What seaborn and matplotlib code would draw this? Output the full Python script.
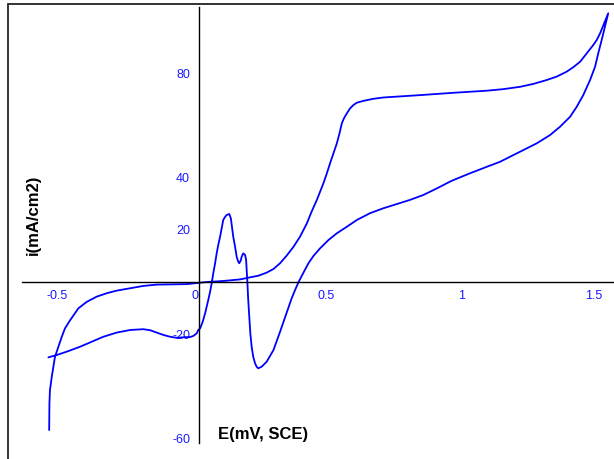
import matplotlib
matplotlib.use("Agg")
import matplotlib.pyplot as plt
from matplotlib.lines import Line2D
from matplotlib.transforms import ScaledTranslation
import numpy as np
import pandas as pd
import seaborn as sns

# Potential (V vs SCE) and current density (mA/cm2), one full cycle:
# forward sweep from the cathodic limit up to 1.55 V ...
potential_fwd = [
    -0.573, -0.541, -0.497, -0.452, -0.408, -0.364, -0.313, -0.262, -0.212, -0.186,
    -0.161, -0.136, -0.110, -0.085, -0.060, -0.034, -0.022, -0.009, -0.003, 0.004,
    0.014, 0.023, 0.029, 0.035, 0.042, 0.048, 0.054, 0.061, 0.067, 0.073,
    0.080, 0.086, 0.092, 0.099, 0.105, 0.115, 0.121, 0.125, 0.130, 0.137,
    0.143, 0.149, 0.153, 0.159, 0.162, 0.168, 0.175, 0.179, 0.184, 0.187,
    0.191, 0.195, 0.200, 0.206, 0.213, 0.219, 0.225, 0.238, 0.257, 0.283,
    0.308, 0.352, 0.365, 0.378, 0.397, 0.416, 0.435, 0.460, 0.492, 0.524,
    0.562, 0.600, 0.650, 0.701, 0.752, 0.802, 0.853, 0.904, 0.954, 0.967,
    1.030, 1.094, 1.144, 1.195, 1.246, 1.284, 1.335, 1.373, 1.411, 1.436,
    1.461, 1.487, 1.506, 1.518, 1.531, 1.548, 1.556,
]
current_fwd = [
    -28.9, -28.0, -26.5, -24.8, -22.9, -21.0, -19.4, -18.4, -18.1, -18.5,
    -19.4, -20.3, -21.0, -21.4, -21.2, -21.1, -20.7, -19.7, -18.4, -17.8,
    -15.2, -12.0, -9.5, -6.9, -3.7, -0.5, 3.3, 7.2, 11.0, 14.2,
    17.4, 20.6, 23.8, 25.0, 25.7, 26.1, 24.4, 21.2, 17.4, 13.5,
    9.7, 7.8, 7.2, 8.4, 9.7, 11.0, 10.4, 8.4, -0.5, -6.9,
    -13.3, -19.7, -24.8, -28.7, -31.2, -32.5, -33.1, -32.5, -30.6, -26.1,
    -19.1, -6.3, -3.1, -0.1, 3.6, 7.2, 10.0, 12.9, 16.1, 18.7,
    21.2, 23.8, 26.4, 28.3, 29.9, 31.5, 33.4, 35.9, 38.5, 39.1,
    41.7, 44.2, 46.1, 48.7, 51.3, 53.2, 56.4, 59.6, 63.4, 67.2,
    71.7, 77.5, 82.6, 87.7, 92.8, 99.8, 103.1,
]
# ... and the return sweep back to the cathodic limit
potential_rev = [
    1.525, 1.512, 1.499, 1.474, 1.449, 1.423, 1.398, 1.360, 1.322, 1.271,
    1.221, 1.157, 1.094, 1.030, 0.967, 0.840, 0.701, 0.663, 0.625, 0.600,
    0.587, 0.574, 0.562, 0.551, 0.543, 0.534, 0.524, 0.511, 0.498, 0.486,
    0.473, 0.460, 0.448, 0.428, 0.410, 0.384, 0.359, 0.333, 0.308, 0.283,
    0.257, 0.225, 0.194, 0.156, 0.092, 0.029, -0.047, -0.110, -0.161, -0.212,
    -0.262, -0.313, -0.351, -0.389, -0.427, -0.459, -0.490, -0.510, -0.522, -0.535,
    -0.548, -0.554, -0.560, -0.567, -0.569, -0.570,
]
current_rev = [
    95.4, 92.8, 90.9, 87.7, 84.5, 82.4, 80.7, 78.8, 77.5, 76.0,
    74.9, 74.0, 73.4, 73.0, 72.6, 71.7, 70.8, 70.3, 69.5, 68.8,
    67.9, 66.6, 64.7, 62.8, 60.9, 57.0, 53.2, 49.4, 45.5, 41.7,
    37.9, 34.6, 31.5, 27.0, 22.5, 17.4, 13.5, 10.1, 7.2, 5.0,
    3.6, 2.4, 1.8, 1.0, 0.4, 0.0, -0.8, -0.9, -1.0, -1.5,
    -2.4, -3.3, -4.3, -5.6, -7.6, -10.1, -14.6, -17.8, -21.0, -24.8,
    -28.7, -32.5, -36.3, -41.4, -46.5, -56.8,
]

x_ticks = [-0.5, 0, 0.5, 1, 1.5]
x_tick_labels = ["-0.5", "0", "0.5", "1", "1.5"]
y_ticks = [-60, -20, 20, 40, 80]
y_tick_labels = ["-60", "-20", "20", "40", "80"]

sns.set_theme(style="white")
plt.rcParams["font.family"] = ["Liberation Sans", "DejaVu Sans"]

potential = potential_fwd + potential_rev
current = current_fwd + current_rev
df = pd.DataFrame({"E": potential, "i": current, "step": np.arange(len(potential))})

W, H = 614, 459
fig = plt.figure(figsize=(W / 100, H / 100), dpi=100)
ax = fig.add_axes([0, 0, 1, 1])
ax.patch.set_alpha(0)

sns.lineplot(data=df, x="E", y="i", sort=False, estimator=None,
             color="#0000ff", linewidth=1.3, ax=ax)

ax.set_xlim(-0.757, 1.578)
ax.set_ylim(-67.9, 108.2)

# axes crossing at the origin
for side in ("top", "right"):
    ax.spines[side].set_visible(False)
ax.spines["left"].set_position(("data", 0))
ax.spines["bottom"].set_position(("data", 0))
ax.spines["left"].set_bounds(-61.8, 105.5)
ax.spines["bottom"].set_bounds(-0.673, 1.578)
for side in ("left", "bottom"):
    ax.spines[side].set_color("black")
    ax.spines[side].set_linewidth(1.0)

ax.set_xticks(x_ticks)
ax.set_xticklabels(x_tick_labels)
ax.set_yticks(y_ticks)
ax.set_yticklabels(y_tick_labels)
ax.tick_params(axis="x", length=0, pad=5.5, labelsize=9, labelcolor="#1a1aff")
ax.tick_params(axis="y", length=0, pad=6.5, labelsize=9, labelcolor="#1a1aff")
ax.set_xlabel("")
ax.set_ylabel("")
ax.grid(False)

# nudge the labels near the vertical axis slightly to the left
x_label_shift_px = {"-0.5": -10, "0": -4, "0.5": -4}
for lab in ax.get_xticklabels():
    dx = x_label_shift_px.get(lab.get_text(), 0)
    if dx:
        lab.set_transform(lab.get_transform()
                          + ScaledTranslation(dx / 100, 0, fig.dpi_scale_trans))

fig.text(218 / W, 1 - 435 / H, "E(mV, SCE)", ha="left", va="center",
         fontsize=12, fontweight="bold", color="black")
fig.text(33 / W, 1 - 215 / H, "i(mA/cm2)", ha="center", va="center",
         rotation=90, fontsize=12, fontweight="bold", color="black")

# outer frame (left and top edges)
fx, fy = 8 / W, 1 - 4 / H
fig.add_artist(Line2D([fx, fx], [0, fy], color="#333333", linewidth=1.4))
fig.add_artist(Line2D([fx, 1], [fy, fy], color="#333333", linewidth=1.4))

fig.savefig("out.png", dpi=100, facecolor="white")
